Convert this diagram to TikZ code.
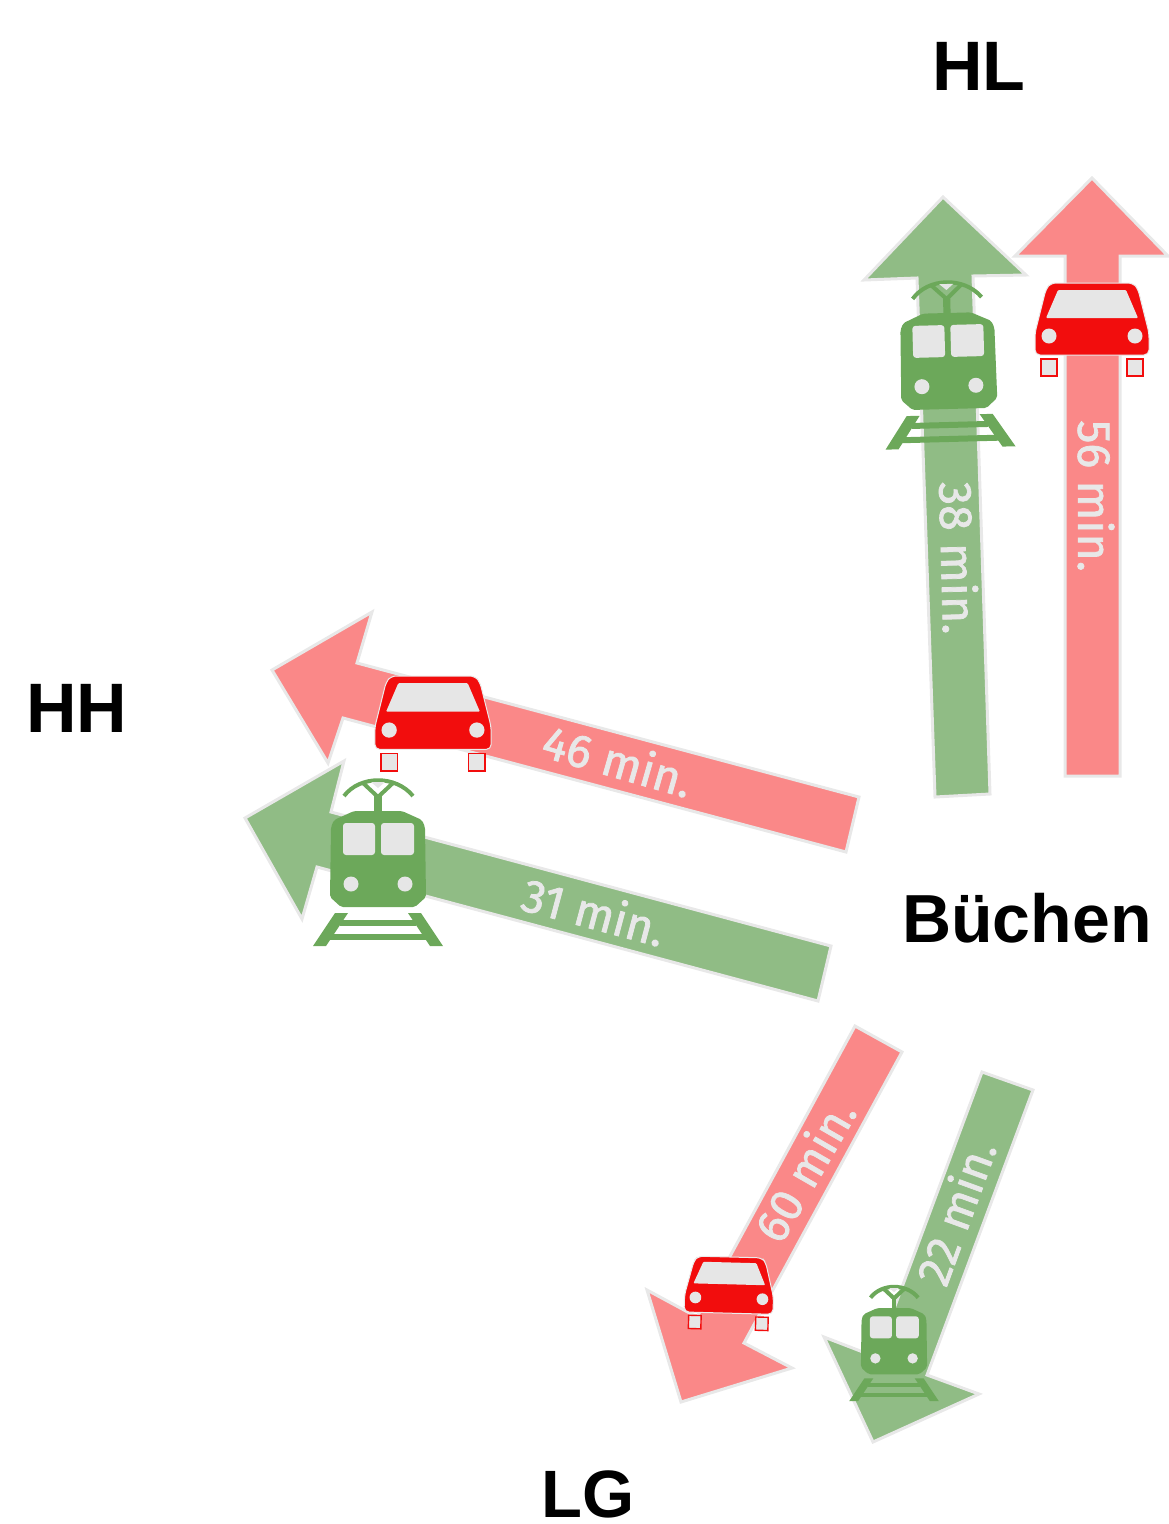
\documentclass[tikz,border=0pt]{standalone}
\usepackage{fontspec}
\setmainfont{Liberation Sans}
\newfontfamily\labfont[FakeBold=1.6]{Fira Sans}
\definecolor{arrred}{HTML}{FA8888}
\definecolor{arrgreen}{HTML}{90BC85}
\definecolor{edgegrey}{HTML}{E8E8E8}
\definecolor{carred}{HTML}{F20D0D}
\definecolor{traingreen}{HTML}{6CA85A}
\definecolor{glass}{HTML}{E6E6E6}
\tikzset{
  redarrow/.style={fill=arrred,draw=edgegrey,line width=3pt,line join=miter},
  greenarrow/.style={fill=arrgreen,draw=edgegrey,line width=3pt,line join=miter},
  timelabel/.style={text=edgegrey,font=\labfont\fontsize{46.5}{46.5}\selectfont,inner sep=0pt},
  place/.style={text=black,font=\bfseries\fontsize{70}{70}\selectfont,inner sep=0pt},
  town/.style={text=black,font=\bfseries\fontsize{68}{68}\selectfont,inner sep=0pt},
  car/.pic={
    \draw[fill=carred,draw=white!92!black,line width=1pt,rounded corners=5pt]
      (-41,0) -- (41,0) -- (46,6) -- (57,50) -- (57,72) -- (-57,72) -- (-57,50) -- (-46,6) -- cycle;
    \fill[glass,rounded corners=1pt] (-34,7) -- (34,7) -- (46,35) -- (-46,35) -- cycle;
    \fill[glass] (-43,53) circle (7.5) (43,53) circle (7.5);
    \draw[carred,fill=glass,line width=1.4pt] (-51,76) rectangle (-35,93);
    \draw[carred,fill=glass,line width=1.4pt] (35,76) rectangle (51,93);
  },
  trainicon/.pic={
    \draw[traingreen,line width=4pt] (-34,-15) .. controls (-18,-36) and (18,-36) .. (35,-15);
    \draw[traingreen,line width=4pt] (-15,-28) -- (0,-14) -- (15,-28);
    \fill[traingreen] (-3.6,1) rectangle (3.6,-15);
    \fill[glass] (-7,-29) -- (7,-29) -- (0,-23) -- cycle;
    \fill[traingreen,rounded corners=2pt] (-24,0) -- (24,0) -- (44,9) -- (47,16) -- (48,86) -- (37,96) -- (-37,96) -- (-48,86) -- (-47,16) -- (-44,9) -- cycle;
    \fill[glass,rounded corners=3pt] (-35,12) rectangle (-3,44);
    \fill[glass,rounded corners=3pt] (3,12) rectangle (36,44);
    \fill[glass] (-27,73) circle (7.5) (27,73) circle (7.5);
    \fill[traingreen] (-38,109) rectangle (38,115);
    \fill[traingreen] (-50,123) rectangle (50,129);
    \fill[traingreen] (-65,135) -- (-52,135) -- (-30,102) -- (-43,102) -- cycle;
    \fill[traingreen] (65,135) -- (52,135) -- (30,102) -- (43,102) -- cycle;
  }
}
\begin{document}
\begin{tikzpicture}[x=1pt,y=-1pt]
\useasboundingbox (0,0) rectangle (1168,1524);
% arrows
\draw[greenarrow] (943,197) -- (1026,275) -- (973,276) -- (990,794) -- (935,797) -- (917,278) -- (864,280) -- cycle;
\draw[redarrow] (1092,178) -- (1168,256) -- (1120,256) -- (1120,776) -- (1065,776) -- (1065,256) -- (1015,256) -- cycle;
\draw[redarrow] (272,670) -- (372,612) -- (357,663) -- (859,797) -- (846,852) -- (343,718) -- (328,763) -- cycle;
\draw[greenarrow] (245,818) -- (344,761) -- (331,812) -- (831,946) -- (818,1001) -- (317,867) -- (302,919) -- cycle;
\draw[redarrow] (855,1026) -- (902,1052) -- (744,1343) -- (792,1368) -- (681,1402) -- (647,1290) -- (697,1317) -- cycle;
\draw[greenarrow] (982,1072) -- (1033,1090) -- (927,1375) -- (979,1394) -- (873,1442) -- (824,1337) -- (876,1357) -- cycle;
% icons
\pic[rotate=1.5] at (947,313) {trainicon};
\pic at (1092,283) {car};
\pic[scale=1.02] at (433,676) {car};
\pic at (378,811) {trainicon};
\pic[scale=0.78,rotate=-1.5] at (730,1257) {car};
\pic[scale=0.69] at (894,1308) {trainicon};
% labels
\node[timelabel,rotate=-90] (tHLcar) at (1096,496) {56 min.};
\node[timelabel,rotate=-88.5] (tHLtrain) at (959,558) {38 min.};
\node[timelabel,rotate=-16] (tHHcar) at (618,760) {46 min.};
\node[timelabel,rotate=-15] (tHHtrain) at (594,911) {31 min.};
\node[timelabel,rotate=60] (tLGcar) at (804,1170) {60 min.};
\node[timelabel,rotate=70] (tLGtrain) at (955,1212) {22 min.};
\node[place] (HL) at (979,66) {HL};
\node[place] (HH) at (77,708) {HH};
\node[place,font=\bfseries\fontsize{67}{67}\selectfont] (LG) at (588,1494) {LG};
\node[town] (Buechen) at (1027,918) {Büchen};
\end{tikzpicture}
\end{document}
